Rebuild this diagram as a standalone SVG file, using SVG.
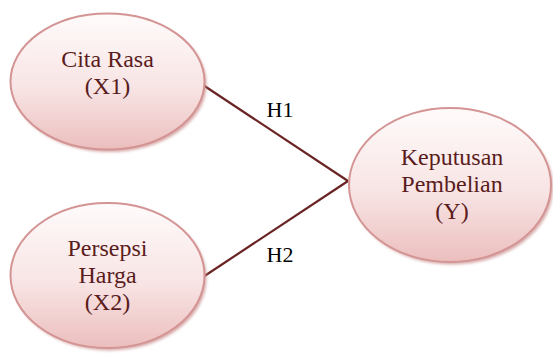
<svg xmlns="http://www.w3.org/2000/svg" width="553" height="356" viewBox="0 0 553 356">
<defs>
<linearGradient id="fill" x1="0" y1="0" x2="0" y2="1">
<stop offset="0" stop-color="#fffbfb"/>
<stop offset="0.55" stop-color="#f8e4e4"/>
<stop offset="1" stop-color="#ecbebe"/>
</linearGradient>
<filter id="sh" x="-10%" y="-10%" width="125%" height="130%">
<feGaussianBlur stdDeviation="1.5"/>
</filter>
</defs>
<style>
.shadow{fill:#c98b8b;opacity:0.75}
.node{fill:url(#fill);stroke:#d49494;stroke-width:2}
.lbl{font-family:"Liberation Serif","DejaVu Serif",serif;font-size:24px;fill:#5a1c1c;text-anchor:middle}
.hl{font-family:"Liberation Serif","DejaVu Serif",serif;font-size:22px;fill:#000;text-anchor:middle}
.edge{stroke:#6a2323;stroke-width:2.2;fill:none}
</style>
<g id="edges">
<line class="edge" x1="203" y1="85" x2="348" y2="181"/>
<line class="edge" x1="203" y1="277" x2="348" y2="181"/>
<text class="hl" x="280" y="117">H1</text>
<text class="hl" x="280" y="262">H2</text>
</g>
<g id="cita-rasa">
<ellipse class="shadow" cx="109.5" cy="84" rx="97" ry="68" filter="url(#sh)"/>
<ellipse class="node" cx="107.5" cy="81.5" rx="97" ry="68"/>
<text class="lbl" x="107.5" y="67">Cita Rasa</text>
<text class="lbl" x="107.5" y="94">(X1)</text>
</g>
<g id="persepsi-harga">
<ellipse class="shadow" cx="109.5" cy="278" rx="97" ry="72.5" filter="url(#sh)"/>
<ellipse class="node" cx="107.5" cy="275.5" rx="97" ry="72.5"/>
<text class="lbl" x="107.5" y="256">Persepsi</text>
<text class="lbl" x="107.5" y="283">Harga</text>
<text class="lbl" x="107.5" y="310">(X2)</text>
</g>
<g id="keputusan-pembelian">
<ellipse class="shadow" cx="452" cy="187.5" rx="101" ry="77" filter="url(#sh)"/>
<ellipse class="node" cx="450" cy="185" rx="101" ry="77"/>
<text class="lbl" x="452" y="165">Keputusan</text>
<text class="lbl" x="452" y="192">Pembelian</text>
<text class="lbl" x="452" y="219">(Y)</text>
</g>
</svg>
